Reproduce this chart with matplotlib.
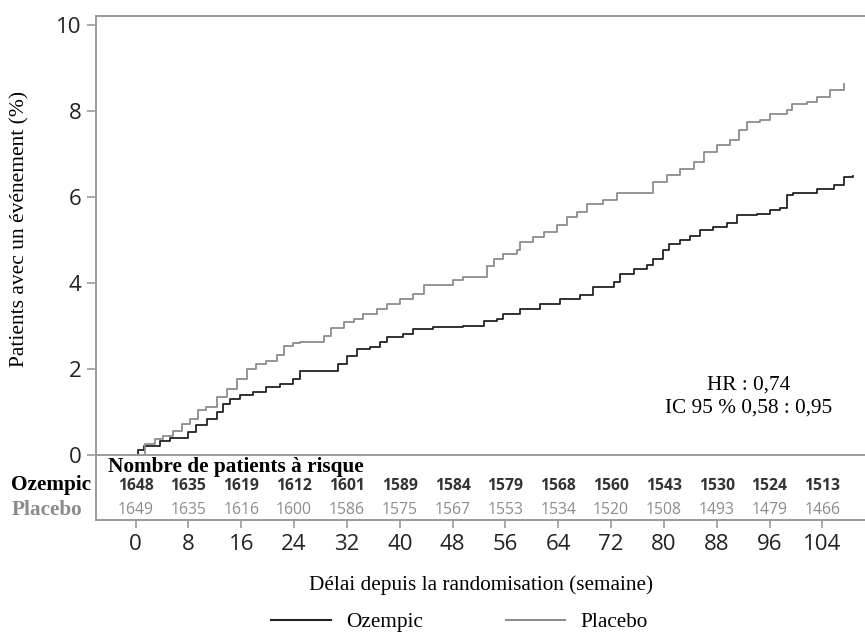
import numpy as np
import matplotlib
matplotlib.use('Agg')
import matplotlib.pyplot as plt
from matplotlib.lines import Line2D

# Kaplan-Meier style cumulative incidence (%)
oz_weeks = [0, 0.3, 1.2, 3.7, 5.2, 8.0, 9.2, 10.8, 12.3, 13.3, 14.3, 15.8, 17.8,
            19.8, 21.9, 23.9, 24.9, 30.7, 32.0, 33.5, 35.5, 37.0, 38.0, 40.5,
            42.0, 45.0, 49.6, 52.7, 54.7, 55.7, 58.2, 61.3, 64.3, 67.3, 69.3,
            72.4, 73.4, 75.4, 77.4, 78.4, 79.9, 80.7, 82.5, 84.0, 85.5, 87.5,
            89.5, 91.0, 94.1, 96.1, 97.6, 98.6, 99.6, 103.2, 105.7, 107.2, 108.7]
oz_vals = [0, 0.12, 0.21, 0.33, 0.40, 0.52, 0.68, 0.83, 0.99, 1.19, 1.30, 1.38, 1.45,
           1.57, 1.65, 1.76, 1.94, 2.10, 2.30, 2.45, 2.50, 2.62, 2.73, 2.80,
           2.93, 2.97, 3.00, 3.11, 3.16, 3.28, 3.40, 3.51, 3.63, 3.71, 3.90,
           4.02, 4.21, 4.33, 4.41, 4.56, 4.76, 4.91, 4.99, 5.10, 5.22, 5.30,
           5.39, 5.57, 5.61, 5.69, 5.73, 6.04, 6.08, 6.19, 6.27, 6.46, 6.48]

pl_weeks = [0, 1.4, 2.9, 4.1, 5.7, 7.0, 8.2, 9.4, 10.7, 12.3, 13.8, 15.3, 16.8,
            18.3, 19.8, 21.4, 22.4, 23.8, 24.9, 28.6, 29.6, 31.5, 33.0, 34.5,
            36.5, 38.0, 40.0, 42.0, 43.6, 48.1, 49.6, 53.2, 54.2, 55.7, 57.7,
            58.2, 60.2, 61.8, 63.8, 65.3, 66.8, 68.3, 70.8, 72.9, 78.4, 80.5,
            82.5, 84.5, 86.0, 88.0, 90.0, 91.3, 92.6, 94.6, 96.1, 98.6, 99.4,
            101.7, 103.2, 105.2, 107.2]
pl_vals = [0, 0.25, 0.37, 0.44, 0.56, 0.72, 0.84, 1.03, 1.10, 1.34, 1.54, 1.77, 2.00,
           2.12, 2.19, 2.31, 2.54, 2.59, 2.62, 2.77, 2.95, 3.08, 3.16, 3.28,
           3.40, 3.51, 3.63, 3.74, 3.94, 4.07, 4.13, 4.40, 4.56, 4.68, 4.76,
           4.95, 5.07, 5.18, 5.34, 5.53, 5.65, 5.84, 5.92, 6.08, 6.35, 6.50,
           6.64, 6.81, 7.05, 7.20, 7.32, 7.55, 7.75, 7.80, 7.93, 8.02, 8.17,
           8.21, 8.33, 8.48, 8.62]

# patients at risk
risk_weeks = [0, 8, 16, 24, 32, 40, 48, 56, 64, 72, 80, 88, 96, 104]
risk_oz = [1648, 1635, 1619, 1612, 1601, 1589, 1584, 1579, 1568, 1560, 1543, 1530, 1524, 1513]
risk_pl = [1649, 1635, 1616, 1600, 1586, 1575, 1567, 1553, 1534, 1520, 1508, 1493, 1479, 1466]

c_oz = '#222222'
c_pl = '#8c8c8c'
c_frame = '#9a9a9a'
serif = 'Liberation Serif'
sans = 'Open Sans'

fig = plt.figure(figsize=(8.65, 6.36), dpi=100)
ax = fig.add_axes([96/865, 116/636, 770/865, 504/636])

ax.plot(oz_weeks, oz_vals, drawstyle='steps-post', color=c_oz, lw=1.3)
ax.plot(pl_weeks, pl_vals, drawstyle='steps-post', color=c_pl, lw=1.3)
ax.axhline(0, color=c_frame, lw=1.4)

ax.set_xlim(-6.0, 110.6)
ax.set_ylim(-1.52, 10.21)
ax.set_yticks([0, 2, 4, 6, 8, 10])
ax.set_xticks(risk_weeks)

for s in ['left', 'top', 'bottom']:
    ax.spines[s].set_color(c_frame)
    ax.spines[s].set_linewidth(1.4)
ax.spines['right'].set_visible(False)

ax.tick_params(axis='both', colors=c_frame, width=1.2, labelcolor='#222222',
               labelsize=16, direction='out')
ax.tick_params(axis='x', length=6, pad=4)
ax.tick_params(axis='y', length=6.5, pad=4)
for lab in ax.get_xticklabels() + ax.get_yticklabels():
    lab.set_fontfamily(sans)

ax.set_ylabel('Patients avec un événement (%)', fontfamily=serif, fontsize=15.5)
ax.yaxis.set_label_coords(-0.086, 0.578)
ax.set_xlabel('Délai depuis la randomisation (semaine)', fontfamily=serif,
              fontsize=15.3, labelpad=15)

# risk table
ax.text(-4.2, -0.29, 'Nombre de patients à risque', fontfamily=serif,
        fontweight='bold', fontsize=15.3, va='center', ha='left')
tr = ax.get_yaxis_transform()
x_lab = (11.5 - 96) / 770
ax.text(x_lab, -0.70, 'Ozempic', transform=tr, fontfamily=serif, fontweight='bold',
        fontsize=15.3, va='center', ha='left', color='black')
ax.text(x_lab, -1.29, 'Placebo', transform=tr, fontfamily=serif, fontweight='bold',
        fontsize=15.3, va='center', ha='left', color=c_pl)
for w, a, b in zip(risk_weeks, risk_oz, risk_pl):
    ax.text(w, -0.72, str(a), fontfamily=sans, fontweight='bold', fontsize=11.3,
            ha='center', va='center', color='#333333')
    ax.text(w, -1.28, str(b), fontfamily=sans, fontsize=11.3,
            ha='center', va='center', color=c_pl)

ax.text(0.847, 0.245, 'HR : 0,74\nIC 95 % 0,58 : 0,95', transform=ax.transAxes,
        fontfamily=serif, fontsize=15.3, ha='center', va='center', linespacing=1.35)

handles = [Line2D([], [], color=c_oz, lw=1.5), Line2D([], [], color=c_pl, lw=1.5)]
fig.legend(handles, ['Ozempic', 'Placebo'], loc='center', bbox_to_anchor=(0.531, 1 - 622/636),
           ncol=2, frameon=False, prop={'family': serif, 'size': 15.3},
           handlelength=2.8, handletextpad=0.7, columnspacing=3.9)

fig.savefig('out.png', dpi=100)
